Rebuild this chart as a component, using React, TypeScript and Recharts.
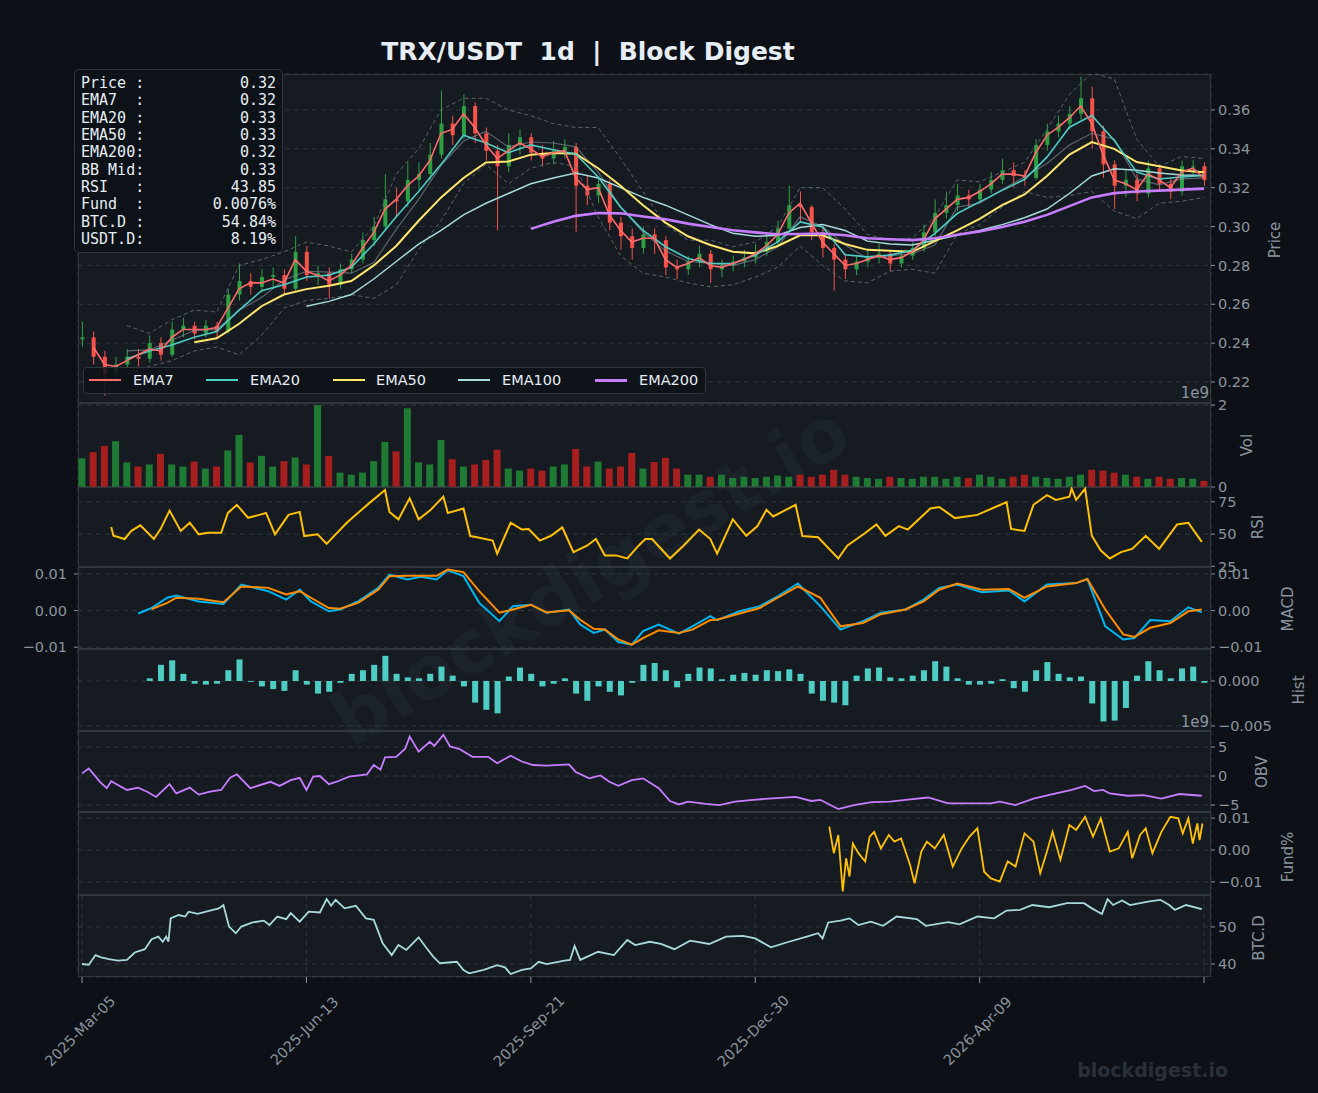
import React from 'react'
import { ComposedChart, Bar, Line, XAxis, YAxis, CartesianGrid, Cell } from 'recharts'

// values, one row every 5 days from 2025-03-05
const STEP = 5
const SLOW_STEP = 10 // slow overlays are listed every 10 days

const xTicks = [0, 100, 200, 300, 400, 500]
const xTickLabels = ['2025-Mar-05', '2025-Jun-13', '2025-Sep-21', '2025-Dec-30', '2026-Apr-09', '']

const firstOpen = 0.242
const closes = [
  0.243, 0.233, 0.224, 0.229, 0.233, 0.232, 0.240, 0.234, 0.247, 0.249,
  0.245, 0.249, 0.246, 0.265, 0.272, 0.269, 0.274, 0.275, 0.268, 0.287,
  0.275, 0.276, 0.270, 0.278, 0.283, 0.293, 0.300, 0.314, 0.313, 0.324,
  0.327, 0.337, 0.353, 0.347, 0.362, 0.348, 0.339, 0.331, 0.342, 0.346,
  0.338, 0.335, 0.339, 0.341, 0.321, 0.316, 0.322, 0.302, 0.295, 0.289,
  0.296, 0.293, 0.279, 0.278, 0.282, 0.286, 0.278, 0.280, 0.282, 0.284,
  0.287, 0.292, 0.299, 0.311, 0.310, 0.297, 0.289, 0.283, 0.278, 0.282,
  0.284, 0.286, 0.281, 0.285, 0.289, 0.297, 0.307, 0.311, 0.316, 0.314,
  0.319, 0.324, 0.329, 0.326, 0.325, 0.342, 0.349, 0.353, 0.358, 0.366,
  0.349, 0.332, 0.321, 0.324, 0.317, 0.330, 0.322, 0.318, 0.331, 0.331,
  0.324,
]
const highs = [
  0.251, 0.246, 0.236, 0.233, 0.237, 0.237, 0.244, 0.243, 0.251, 0.253,
  0.251, 0.252, 0.251, 0.268, 0.281, 0.276, 0.278, 0.279, 0.278, 0.295,
  0.290, 0.280, 0.279, 0.281, 0.286, 0.297, 0.305, 0.327, 0.320, 0.333,
  0.333, 0.343, 0.370, 0.357, 0.368, 0.364, 0.351, 0.342, 0.348, 0.350,
  0.348, 0.342, 0.344, 0.345, 0.343, 0.326, 0.326, 0.324, 0.305, 0.299,
  0.300, 0.299, 0.295, 0.283, 0.285, 0.290, 0.288, 0.283, 0.285, 0.288,
  0.291, 0.296, 0.303, 0.321, 0.318, 0.311, 0.300, 0.291, 0.286, 0.285,
  0.288, 0.291, 0.288, 0.288, 0.292, 0.301, 0.314, 0.318, 0.322, 0.319,
  0.322, 0.328, 0.335, 0.333, 0.329, 0.345, 0.353, 0.357, 0.362, 0.377,
  0.372, 0.352, 0.334, 0.329, 0.327, 0.334, 0.332, 0.325, 0.334, 0.334,
  0.333,
]
const lows = [
  0.238, 0.229, 0.213, 0.220, 0.227, 0.228, 0.230, 0.231, 0.233, 0.243,
  0.242, 0.243, 0.242, 0.245, 0.262, 0.265, 0.266, 0.268, 0.265, 0.267,
  0.272, 0.270, 0.263, 0.268, 0.276, 0.281, 0.290, 0.298, 0.305, 0.310,
  0.319, 0.324, 0.335, 0.342, 0.345, 0.343, 0.334, 0.298, 0.328, 0.337,
  0.334, 0.331, 0.332, 0.335, 0.297, 0.311, 0.312, 0.298, 0.288, 0.283,
  0.286, 0.286, 0.275, 0.273, 0.275, 0.279, 0.271, 0.274, 0.277, 0.279,
  0.281, 0.285, 0.290, 0.297, 0.302, 0.293, 0.284, 0.267, 0.273, 0.275,
  0.279, 0.281, 0.277, 0.279, 0.283, 0.287, 0.295, 0.304, 0.308, 0.310,
  0.312, 0.317, 0.322, 0.320, 0.321, 0.324, 0.339, 0.346, 0.350, 0.355,
  0.340, 0.325, 0.309, 0.315, 0.313, 0.315, 0.318, 0.314, 0.316, 0.327,
  0.321,
]
const ema7 = [
  null, 0.238, 0.229, 0.228, 0.231, 0.234, 0.237, 0.236, 0.243, 0.247,
  0.247, 0.247, 0.248, 0.258, 0.268, 0.271, 0.271, 0.273, 0.271, 0.283,
  0.277, 0.275, 0.272, 0.275, 0.280, 0.289, 0.297, 0.309, 0.314, 0.321,
  0.326, 0.334, 0.348, 0.350, 0.358, 0.351, 0.342, 0.335, 0.339, 0.343,
  0.340, 0.336, 0.338, 0.339, 0.325, 0.319, 0.320, 0.306, 0.298, 0.292,
  0.294, 0.294, 0.283, 0.279, 0.281, 0.284, 0.280, 0.279, 0.281, 0.283,
  0.286, 0.290, 0.296, 0.307, 0.312, 0.302, 0.292, 0.286, 0.280, 0.281,
  0.283, 0.285, 0.283, 0.284, 0.287, 0.293, 0.304, 0.309, 0.314, 0.315,
  0.318, 0.322, 0.327, 0.327, 0.326, 0.338, 0.347, 0.351, 0.356, 0.362,
  0.353, 0.337, 0.324, 0.322, 0.319, 0.327, 0.324, 0.320, 0.328, 0.330,
  0.325,
]
// 10-day steps
const ema20 = [
  null, null, 0.232, 0.236, 0.239, 0.243, 0.246, 0.257, 0.267, 0.270,
  0.274, 0.275, 0.279, 0.291, 0.305, 0.318, 0.332, 0.347, 0.343, 0.338,
  0.342, 0.3395, 0.3374, 0.3255, 0.310, 0.298, 0.2896, 0.2836, 0.281, 0.281,
  0.2853, 0.2921, 0.3024, 0.2998, 0.2855, 0.2844, 0.2853, 0.2878, 0.2964, 0.3067,
  0.3127, 0.3186, 0.3242, 0.3357, 0.3511, 0.3571, 0.3443, 0.328, 0.3245, 0.3255,
  0.3263,
]
const ema50 = [
  null, null, null, null, null, 0.2405, 0.2425, 0.250, 0.259, 0.265,
  0.2678, 0.2695, 0.272, 0.280, 0.290, 0.303, 0.315, 0.325, 0.333, 0.3335,
  0.337, 0.3378, 0.3375, 0.330, 0.321, 0.311, 0.302, 0.295, 0.2905, 0.287,
  0.2862, 0.290, 0.2955, 0.2955, 0.291, 0.288, 0.2875, 0.287, 0.2925, 0.298,
  0.304, 0.311, 0.3165, 0.326, 0.337, 0.3435, 0.340, 0.3332, 0.331, 0.3289,
  0.328,
]
const ema100 = [
  null, null, null, null, null, null, null, null, null, null,
  0.259, 0.2615, 0.265, 0.273, 0.282, 0.291, 0.298, 0.306, 0.312, 0.317,
  0.322, 0.325, 0.3275, 0.325, 0.320, 0.315, 0.311, 0.306, 0.301, 0.2965,
  0.295, 0.2955, 0.2995, 0.301, 0.298, 0.2925, 0.291, 0.2905, 0.293, 0.2955,
  0.298, 0.301, 0.3045, 0.309, 0.317, 0.326, 0.3297, 0.329, 0.3275, 0.3265,
  0.3263,
]
const ema200 = [
  null, null, null, null, null, null, null, null, null, null,
  null, null, null, null, null, null, null, null, null, null,
  0.2988, 0.3025, 0.3055, 0.307, 0.3068, 0.3052, 0.3038, 0.3015, 0.2998, 0.2981,
  0.297, 0.296, 0.2962, 0.2964, 0.2955, 0.294, 0.2935, 0.293, 0.294, 0.2958,
  0.2975, 0.2998, 0.3025, 0.306, 0.3105, 0.315, 0.3172, 0.318, 0.3185, 0.319,
  0.3195,
]
const bbUpper = [
  null, null, 0.249, 0.245, 0.252, 0.257, 0.256, 0.280, 0.283, 0.287,
  0.292, 0.290, 0.287, 0.300, 0.327, 0.340, 0.360, 0.366, 0.366, 0.360,
  0.357, 0.353, 0.351, 0.351, 0.335, 0.318, 0.301, 0.293, 0.293, 0.2896,
  0.292, 0.300, 0.320, 0.320, 0.309, 0.296, 0.293, 0.294, 0.305, 0.324,
  0.323, 0.328, 0.333, 0.350, 0.368, 0.379, 0.376, 0.345, 0.331, 0.336,
  0.335,
]
const bbLower = [
  null, null, 0.224, 0.228, 0.231, 0.236, 0.238, 0.234, 0.244, 0.258,
  0.262, 0.263, 0.265, 0.263, 0.270, 0.288, 0.303, 0.322, 0.332, 0.322,
  0.330, 0.333, 0.331, 0.305, 0.285, 0.276, 0.274, 0.271, 0.269, 0.270,
  0.274, 0.279, 0.290, 0.280, 0.272, 0.271, 0.277, 0.278, 0.276, 0.296,
  0.301, 0.310, 0.318, 0.315, 0.316, 0.318, 0.308, 0.304, 0.312, 0.313,
  0.315,
]
const bbMid = [
  null, null, 0.236, 0.2365, 0.2415, 0.2465, 0.247, 0.257, 0.2635, 0.2725,
  0.277, 0.2765, 0.276, 0.2815, 0.2985, 0.314, 0.3315, 0.344, 0.349, 0.341,
  0.3435, 0.343, 0.341, 0.328, 0.310, 0.297, 0.2875, 0.282, 0.281, 0.280,
  0.283, 0.2895, 0.305, 0.300, 0.2905, 0.2835, 0.285, 0.286, 0.2905, 0.310,
  0.312, 0.319, 0.3255, 0.3325, 0.342, 0.348, 0.345, 0.3245, 0.3215, 0.3245,
  0.325,
]

// volume in 1e9, 5-day steps
const volume = [
  0.7, 0.85, 1.0, 1.12, 0.6, 0.5, 0.55, 0.81, 0.55, 0.5,
  0.62, 0.45, 0.5, 0.89, 1.27, 0.6, 0.76, 0.5, 0.63, 0.72,
  0.55, 2.0, 0.76, 0.35, 0.3, 0.35, 0.63, 1.1, 0.87, 1.92,
  0.6, 0.55, 1.15, 0.68, 0.5, 0.55, 0.66, 0.91, 0.45, 0.4,
  0.45, 0.4, 0.5, 0.55, 0.93, 0.5, 0.62, 0.45, 0.5, 0.83,
  0.45, 0.61, 0.71, 0.45, 0.3, 0.3, 0.25, 0.3, 0.22, 0.25,
  0.22, 0.25, 0.28, 0.25, 0.3, 0.25, 0.3, 0.42, 0.3, 0.25,
  0.22, 0.2, 0.25, 0.22, 0.2, 0.25, 0.25, 0.2, 0.25, 0.22,
  0.3, 0.25, 0.2, 0.25, 0.3, 0.25, 0.22, 0.2, 0.25, 0.3,
  0.42, 0.4, 0.35, 0.3, 0.25, 0.2, 0.25, 0.2, 0.22, 0.2,
  0.15,
]

// MACD histogram, 5-day steps
const hist = [
  null, null, null, null, null, 0, 0.0003, 0.0018, 0.0023, 0.0008,
  -0.0003, -0.0004, -0.0003, 0.0012, 0.0024, -0.0001, -0.0006, -0.0009, -0.0011, 0.0012,
  -0.0004, -0.0014, -0.0012, -0.0002, 0.0008, 0.0012, 0.0018, 0.0028, 0.0008, 0.0004,
  0.0003, 0.0008, 0.0016, 0.0006, -0.0006, -0.0024, -0.0032, -0.0036, 0.0005, 0.0015,
  0.0008, -0.0006, -0.0003, 0.0003, -0.0014, -0.0022, -0.0006, -0.0012, -0.0016, -0.0002,
  0.0018, 0.002, 0.0012, -0.0007, 0.0008, 0.0015, 0.0014, 0.0002, 0.0007, 0.0009,
  0.0007, 0.0012, 0.0011, 0.0013, 0.0008, -0.0014, -0.0022, -0.0024, -0.0027, 0.0006,
  0.0014, 0.0015, 0.0004, 0.0003, 0.0006, 0.0012, 0.0022, 0.0016, 0.0003, -0.0004,
  -0.0004, -0.0003, 0.0002, -0.0008, -0.0012, 0.0012, 0.0021, 0.0008, 0.0004, 0.0005,
  -0.0025, -0.0045, -0.0044, -0.003, 0.0006, 0.0022, 0.0012, 0.0003, 0.0014, 0.0016,
  -0.0002,
]

// [day, value] readings
const rsiPts = [
  [13, 55.5], [14, 48.7], [19, 46.2], [22, 52.5], [26, 56.8], [32, 46.2], [35, 53.9], [39, 68.2],
  [44, 52.5], [48, 58.8], [52, 49.8], [56, 51], [62, 51], [65, 66.4], [69, 72.7], [74, 62.6],
  [79, 64.9], [82, 66.4], [86, 49.8], [92, 64.9], [97, 67.2], [99, 48.5], [105, 49.8], [109, 42.4],
  [113, 49.8], [118, 58.8], [121, 63.4], [128, 74], [135, 84.1], [137, 67.2], [141, 61.4], [146, 77.8],
  [150, 61.4], [155, 68.2], [161, 79], [163, 66.4], [170, 69.8], [173, 48.5], [176, 47.5], [183, 45],
  [185, 34.8], [191, 58.8], [196, 53.5], [199, 53.9], [204, 45], [209, 48.7], [214, 55.2], [219, 36],
  [225, 41], [229, 46.2], [233, 33.5], [238, 33.5], [243, 31.1], [248, 41], [251, 46.2], [254, 46.2],
  [262, 31.1], [268, 41], [275, 53.5], [280, 46.2], [283, 34.8], [290, 61.4], [296, 48.7], [301, 56.2],
  [305, 68.8], [308, 63.7], [318, 72.7], [321, 48.5], [328, 47.5], [337, 31.1], [341, 41], [349, 50.8],
  [354, 57.5], [358, 48.7], [364, 56.2], [368, 53.5], [378, 69.8], [382, 71], [389, 62.4], [399, 64.9],
  [407, 71], [412, 74.8], [414, 54], [420, 52.5], [424, 72.7], [430, 80.2], [434, 76.5], [440, 79],
  [441, 85.2], [443, 76.5], [447, 85.2], [450, 48.7], [454, 37.3], [458, 31.1], [463, 36], [468, 38.5],
  [474, 48.7], [480, 38.5], [488, 57.5], [493, 58.8], [499, 44],
]

// [day, macd, signal]
const macdPts = [
  [25, -0.0008, null], [31, 0.0007, 0.0004], [38, 0.0035, 0.0021], [42, 0.0041, 0.0035],
  [52, 0.0025, 0.0032], [63, 0.0018, 0.0023], [71, 0.0071, 0.0066], [83, 0.0053, 0.0062],
  [91, 0.003, 0.0044], [97, 0.0057, 0.0053], [102, 0.0025, 0.0035], [110, -0.0002, 0.0007],
  [115, 0.0003, 0.0005], [123, 0.0025, 0.0021], [132, 0.0062, 0.0057], [137, 0.0098, 0.0094],
  [145, 0.0085, 0.0095], [151, 0.0092, 0.0095], [158, 0.0085, 0.0095], [163, 0.011, 0.0112],
  [170, 0.0094, 0.0105], [177, 0.0021, 0.0053], [186, -0.0029, -0.0006], [192, 0.0012, 0.0003],
  [200, 0.0016, 0.0016], [207, -0.0006, -0.0005], [217, 0.0003, 0.0001], [222, -0.0038, -0.0025],
  [228, -0.0061, -0.005], [233, -0.0052, -0.0052], [239, -0.0086, -0.0079], [245, -0.0093, -0.0093],
  [250, -0.0056, -0.0075], [257, -0.0038, -0.0054], [266, -0.0063, -0.0061], [272, -0.0043, -0.0052],
  [280, -0.0015, -0.0026], [283, -0.0026, -0.0025], [293, -0.0002, -0.0008], [302, 0.0012, 0.0007],
  [310, 0.0039, 0.0035], [319, 0.0074, 0.0066], [329, 0.0012, 0.0035], [338, -0.0052, -0.0043],
  [348, -0.0029, -0.0034], [356, -0.0006, -0.001], [367, 0.0003, 0.0003], [375, 0.003, 0.0025],
  [382, 0.0062, 0.0057], [390, 0.0071, 0.0074], [401, 0.005, 0.0057], [413, 0.0055, 0.0059],
  [420, 0.0025, 0.0035], [430, 0.0071, 0.0066], [443, 0.0075, 0.0075], [448, 0.0086, 0.0086],
  [456, -0.0043, 0.0003], [464, -0.0079, -0.0065], [469, -0.0075, -0.0072], [476, -0.0026, -0.0047],
  [485, -0.0029, -0.0034], [493, 0.0009, -0.0002], [499, -0.0005, 0.0003],
]

// OBV in 1e9
const obvPts = [
  [0, 0.46], [3, 1.3], [8, -1], [11, -2.1], [13, -0.9], [20, -2.4], [25, -2], [29, -2.7],
  [33, -3.6], [39, -1.4], [42, -3], [48, -2], [52, -3.2], [57, -2.7], [62, -2.4], [66, -0.3],
  [69, 0.3], [75, -2.1], [84, -1], [88, -1.7], [93, -0.7], [97, -0.3], [100, -2.4], [103, -0.1],
  [106, 0], [110, -1.4], [114, -0.9], [119, -0.1], [127, 0.3], [130, 1.9], [133, 1.1], [135, 3.2],
  [140, 3.3], [144, 4.7], [146, 6.8], [150, 4.2], [155, 5.9], [157, 5.2], [161, 7.1], [164, 5.1],
  [168, 4.7], [174, 3.3], [181, 3.3], [185, 2.2], [191, 3.5], [196, 2.5], [201, 1.9], [207, 1.8],
  [217, 2], [220, 0.7], [226, -0.4], [231, 0.1], [235, -1], [239, -1.7], [245, -0.7], [250, -0.4],
  [257, -2.1], [262, -4.3], [266, -4.9], [270, -4.4], [278, -4.8], [284, -5], [291, -4.4], [299, -4.1],
  [306, -3.9], [318, -3.6], [325, -4.3], [329, -4.1], [337, -5.7], [344, -5], [352, -4.5], [360, -4.4],
  [367, -4.1], [377, -3.7], [386, -4.7], [396, -4.7], [405, -4.7], [409, -4.4], [416, -5], [424, -3.9],
  [434, -3], [441, -2.4], [447, -1.7], [451, -2.6], [455, -2.4], [458, -3], [466, -3.4], [473, -3.3],
  [481, -3.9], [489, -3.1], [499, -3.4],
]

// funding rate, %
const fundPts = [
  [333, 0.0073], [335, -0.001], [337, 0.0047], [339, -0.013], [340.5, -0.0026], [342, -0.0083],
  [343.5, 0.002], [346, -0.001], [349, -0.0036], [351, 0.0042], [353, 0.0057], [356, 0.0005],
  [359.5, 0.0047], [362, 0.0026], [365, 0.0036], [369, -0.0047], [371, -0.0104], [374, -0.0005],
  [376.5, 0.0026], [380, 0.0005], [384, 0.0047], [388, -0.0052], [392, 0.0005], [395.5, 0.0042],
  [399, 0.0068], [402, -0.0068], [405, -0.0089], [409, -0.0099], [412.5, -0.0036], [416, -0.0052],
  [420, 0.0052], [424, 0.0026], [427, -0.0073], [430, -0.0005], [432.5, 0.0057], [436, -0.0031],
  [440, 0.0078], [443, 0.0063], [447, 0.0104], [450.5, 0.0042], [454, 0.0099], [458, -0.0005],
  [462, 0.0005], [466, 0.0057], [468, -0.0026], [471.5, 0.0047], [474, 0.0068], [477, -0.001],
  [481, 0.0057], [485, 0.0104], [488.5, 0.0099], [490.5, 0.0052], [493, 0.0099], [495, 0.002],
  [497, 0.0083], [498, 0.0031], [499.3, 0.0083],
]

// BTC dominance, %
const btcdPts = [
  [0, 40], [3, 39.8], [6, 42.4], [8.5, 41.8], [12, 41.3], [16, 40.9], [20, 41.1], [23.5, 43.1],
  [28, 44], [31, 46.7], [34, 47.4], [36, 46], [37.5, 47.4], [38.5, 46], [39.5, 52.3], [43, 53.2],
  [46, 52.8], [47.5, 54.1], [51.5, 53.5], [57, 54.4], [61, 55], [63, 55.9], [65.5, 50.1], [68.5, 48.3],
  [71, 50.1], [76, 51.2], [81, 51.7], [83.5, 50.5], [87, 52.8], [91, 52.1], [93, 53.7], [97, 51.4],
  [101, 54.1], [106, 53.9], [109, 57.5], [111, 55.7], [113, 57.3], [117, 55], [122, 55.7], [126.5, 52.3],
  [130, 51.9], [134, 45.6], [138, 42.4], [141, 45.1], [144.5, 43.8], [150, 47.2], [153, 44.7], [156.5, 42],
  [159.5, 40.2], [167, 40.6], [170, 38.4], [172.5, 37.5], [179, 38.4], [185, 39.7], [188.5, 39.1], [191, 37.3],
  [196, 38.4], [200, 38.8], [203.5, 40.6], [207, 40], [215, 40.9], [217.5, 41.1], [219.5, 44.9], [222, 41.1],
  [230, 43.3], [237, 42.4], [243, 46.5], [246.5, 45.1], [253, 46], [258, 45.4], [264, 44], [271, 46.3],
  [279.5, 45.4], [287, 47.4], [294.5, 47.6], [300, 46.9], [307, 44.5], [315, 46], [323, 47.4], [328, 48.3],
  [330, 46.9], [332.5, 51.2], [338, 51.7], [342, 52.3], [346, 50.5], [351.5, 51.4], [357, 50.3], [363, 52.8],
  [372, 52.1], [376, 50.3], [386, 51.3], [391, 50.7], [399, 52.8], [406.5, 52.3], [412, 54.4], [418, 54.6],
  [423.5, 55.9], [431, 55.3], [439, 56.4], [446.5, 56.4], [450, 55], [454.5, 53.5], [457, 57.5], [459.5, 55.9],
  [463.5, 57.1], [467, 55.9], [475, 56.8], [480.5, 57.3], [484.5, 55.9], [487, 54.6], [492, 55.9], [499, 54.8],
]

const infoRows = [
  ['Price :', '0.32'], ['EMA7  :', '0.32'], ['EMA20 :', '0.33'], ['EMA50 :', '0.33'],
  ['EMA200:', '0.32'], ['BB Mid:', '0.33'], ['RSI   :', '43.85'], ['Fund  :', '0.0076%'],
  ['BTC.D :', '54.84%'], ['USDT.D:', '8.19%'],
]

// ---- look ----
const FONT = '"DejaVu Sans", sans-serif'
const MONO = '"DejaVu Sans Mono", monospace'
const PAGE_BG = '#0d1117'
const PANEL_BG = '#161b22'
const SPINE = '#30363d'
const GRID = '#30363d'
const TXT = '#8b949e'
const CANDLE_UP = '#2ea043'
const CANDLE_DN = '#f85149'
const VOL_UP = '#1f7a34'
const VOL_DN = '#a61e1e'
const C = {
  ema7: '#ff6b6b', ema20: '#4ecdc4', ema50: '#ffe66d', ema100: '#a8dadc', ema200: '#c77dff',
  bb: '#6e7681', rsi: '#ffc107', macd: '#00b4f0', signal: '#ff8c00', hist: '#4ecdc4',
  obv: '#c77dff', fund: '#ffc107', btcd: '#a8dadc',
}

const W = 1318
const H = 1093
const PLOT_L = 78
const PLOT_R = 1211
const AXIS_W = 50
const X_DOMAIN = [-1.8, 503.1]

const panels = {
  price: { top: 74, h: 329 },
  vol: { top: 403, h: 84 },
  rsi: { top: 487, h: 80 },
  macd: { top: 567, h: 82 },
  hist: { top: 649, h: 82 },
  obv: { top: 731, h: 81 },
  fund: { top: 812, h: 83 },
  btcd: { top: 895, h: 82 },
}

// ---- rows ----
const priceRows = closes.map((c, i) => {
  const k = (i * STEP) / SLOW_STEP
  const pick = (arr: (number | null)[]) => (Number.isInteger(k) ? arr[k] : null)
  return {
    d: i * STEP,
    o: i === 0 ? firstOpen : closes[i - 1],
    c,
    h: highs[i],
    l: lows[i],
    range: [lows[i], highs[i]],
    ema7: ema7[i],
    ema20: pick(ema20),
    ema50: pick(ema50),
    ema100: pick(ema100),
    ema200: pick(ema200),
    bbUp: pick(bbUpper),
    bbLo: pick(bbLower),
    bbMid: pick(bbMid),
  }
})
const volRows = volume.map((v, i) => ({ d: i * STEP, v, up: priceRows[i].c >= priceRows[i].o }))
const histRows = hist
  .map((v, i) => ({ d: i * STEP, v }))
  .filter((r) => r.v !== null)
const rsiRows = rsiPts.map(([d, v]) => ({ d, v }))
const macdRows = macdPts.map(([d, m, s]) => ({ d, m, s }))
const obvRows = obvPts.map(([d, v]) => ({ d, v }))
const fundRows = fundPts.map(([d, v]) => ({ d, v }))
const btcdRows = btcdPts.map(([d, v]) => ({ d, v }))

const fmt = (digits: number) => (v: number) => (v < 0 ? '\u2212' : '') + Math.abs(v).toFixed(digits)

const Candle = (props: any) => {
  const { x, y, width, height, payload } = props
  if (!payload || height == null || isNaN(y)) return null
  const { o, c, h, l } = payload
  const top = Math.min(y, y + height)
  const span = Math.abs(height)
  const k = span / (h - l || 1)
  const yAt = (v: number) => top + (h - v) * k
  const color = c >= o ? CANDLE_UP : CANDLE_DN
  const cx = x + width / 2
  return (
    <g>
      <line x1={cx} x2={cx} y1={top} y2={top + span} stroke={color} strokeWidth={1} />
      <rect x={x} y={yAt(Math.max(o, c))} width={width} height={Math.max(1, Math.abs(o - c) * k)} fill={color} />
    </g>
  )
}

const DateTick = (props: any) => {
  const { x, y, payload } = props
  const label = xTickLabels[xTicks.indexOf(payload.value)]
  if (!label) return null
  const cx = x - 2
  const cy = y + 46
  return (
    <text x={cx} y={cy} transform={`rotate(-45, ${cx}, ${cy})`} textAnchor="middle" dominantBaseline="central"
      fill={TXT} fontSize={14.5} fontFamily={FONT}>
      {label}
    </text>
  )
}

const tickStyle = { fill: TXT, fontSize: 14.5, fontFamily: FONT }

function Panel({ p, data, domain, ticks, digits, leftAxis, bottom, children }: any) {
  const extra = bottom ? 116 : 0
  const leftW = 60
  return (
    <div style={{ position: 'absolute', left: 0, top: p.top, width: W, height: p.h + extra }}>
      <ComposedChart
        width={W}
        height={p.h + extra}
        data={data}
        margin={{ top: 0, bottom: 0, left: leftAxis ? PLOT_L - leftW : PLOT_L, right: W - PLOT_R - AXIS_W }}
      >
        <CartesianGrid stroke={GRID} strokeDasharray="5 4" strokeWidth={1} />
        <XAxis
          type="number"
          dataKey="d"
          domain={X_DOMAIN}
          ticks={xTicks}
          interval={0}
          allowDataOverflow
          hide={!bottom}
          height={bottom ? extra : 0}
          axisLine={false}
          tickLine={{ stroke: TXT }}
          tickSize={6}
          tick={bottom ? (tp: any) => <DateTick {...tp} /> : false}
        />
        <YAxis
          orientation="right"
          type="number"
          domain={domain}
          ticks={ticks}
          interval={0}
          allowDataOverflow
          width={AXIS_W}
          axisLine={false}
          tickLine={{ stroke: TXT }}
          tickSize={4}
          tickMargin={3}
          tick={tickStyle}
          tickFormatter={fmt(digits)}
        />
        {leftAxis && (
          <YAxis
            yAxisId="left"
            orientation="left"
            type="number"
            domain={domain}
            ticks={ticks}
            interval={0}
            allowDataOverflow
            width={leftW}
            axisLine={false}
            tickLine={{ stroke: TXT }}
            tickSize={4}
            tickMargin={7}
            tick={tickStyle}
            tickFormatter={fmt(digits)}
          />
        )}
        {children}
      </ComposedChart>
    </div>
  )
}

const legendItems = [
  { name: 'EMA7', color: C.ema7, w: 2, hx: 5, tx: 49 },
  { name: 'EMA20', color: C.ema20, w: 2, hx: 122, tx: 166 },
  { name: 'EMA50', color: C.ema50, w: 2, hx: 249, tx: 292 },
  { name: 'EMA100', color: C.ema100, w: 2, hx: 374, tx: 418 },
  { name: 'EMA200', color: C.ema200, w: 3, hx: 511, tx: 555 },
]

const sideLabels = [
  { t: 'Price', x: 1275, y: 240 },
  { t: 'Vol', x: 1247, y: 445 },
  { t: 'RSI', x: 1258, y: 527 },
  { t: 'MACD', x: 1288, y: 609 },
  { t: 'Hist', x: 1299, y: 690 },
  { t: 'OBV', x: 1262, y: 772 },
  { t: 'Fund%', x: 1288, y: 857 },
  { t: 'BTC.D', x: 1259, y: 938 },
]

export default function App() {
  const line = (key: string, color: string, width = 1.5, extra: any = {}) => (
    <Line key={key} type="linear" dataKey={key} stroke={color} strokeWidth={width} dot={false}
      connectNulls isAnimationActive={false} {...extra} />
  )
  return (
    <div style={{ position: 'absolute', left: 0, top: 0, width: W, height: H, background: PAGE_BG, overflow: 'hidden', fontFamily: FONT }}>
      <style>{'.recharts-surface { overflow: visible; } .recharts-wrapper { overflow: visible; }'}</style>
      {Object.values(panels).map((p, i) => (
        <div key={i} style={{ position: 'absolute', left: PLOT_L, top: p.top, width: PLOT_R - PLOT_L, height: p.h,
          background: PANEL_BG, border: `1px solid ${SPINE}`, boxSizing: 'border-box' }} />
      ))}

      <svg width={W} height={H} style={{ position: 'absolute', left: 0, top: 0 }}>
        <text x={590} y={575} transform="rotate(-31, 590, 575)" textAnchor="middle" dominantBaseline="central"
          fontSize={74} fontWeight="bold" fontFamily={FONT} fill="rgba(160,170,185,0.05)">blockdigest.io</text>
      </svg>

      <div style={{ position: 'absolute', left: 0, top: 35, width: 1176, textAlign: 'center', color: '#e6edf3',
        fontSize: 25, fontWeight: 'bold', lineHeight: '34px', whiteSpace: 'pre' }}>
        {'TRX/USDT  1d  |  Block Digest'}
      </div>

      <Panel p={panels.price} data={priceRows} domain={[0.2092, 0.3785]} ticks={[0.22, 0.24, 0.26, 0.28, 0.30, 0.32, 0.34, 0.36]} digits={2}>
        {line('bbUp', C.bb, 1, { strokeDasharray: '4 3', strokeOpacity: 0.8 })}
        {line('bbLo', C.bb, 1, { strokeDasharray: '4 3', strokeOpacity: 0.8 })}
        <Bar dataKey="range" barSize={4} shape={Candle} isAnimationActive={false} />
        {line('bbMid', TXT, 1.2, { strokeOpacity: 0.6 })}
        {line('ema100', C.ema100, 1.5)}
        {line('ema50', C.ema50, 2)}
        {line('ema20', C.ema20, 1.6)}
        {line('ema7', C.ema7, 1.6)}
        {line('ema200', C.ema200, 2.6)}
      </Panel>

      <Panel p={panels.vol} data={volRows} domain={[0, 2.05]} ticks={[0, 2]} digits={0}>
        <Bar dataKey="v" barSize={7} isAnimationActive={false}>
          {volRows.map((r, i) => <Cell key={i} fill={r.up ? VOL_UP : VOL_DN} />)}
        </Bar>
      </Panel>

      <Panel p={panels.rsi} data={rsiRows} domain={[24.5, 86.5]} ticks={[25, 50, 75]} digits={0}>
        {line('v', C.rsi, 2)}
      </Panel>

      <Panel p={panels.macd} data={macdRows} domain={[-0.0105, 0.0119]} ticks={[-0.01, 0, 0.01]} digits={2} leftAxis>
        {line('m', C.macd, 2)}
        {line('s', C.signal, 2)}
      </Panel>

      <Panel p={panels.hist} data={histRows} domain={[-0.00556, 0.00356]} ticks={[-0.005, 0]} digits={3}>
        <Bar dataKey="v" barSize={6} fill={C.hist} isAnimationActive={false} />
      </Panel>

      <Panel p={panels.obv} data={obvRows} domain={[-6.2, 7.76]} ticks={[-5, 0, 5]} digits={0}>
        {line('v', C.obv, 1.8)}
      </Panel>

      <Panel p={panels.fund} data={fundRows} domain={[-0.0141, 0.0119]} ticks={[-0.01, 0, 0.01]} digits={2}>
        {line('v', C.fund, 1.8)}
      </Panel>

      <Panel p={panels.btcd} data={btcdRows} domain={[36.5, 58.6]} ticks={[40, 50]} digits={0} bottom>
        {line('v', C.btcd, 1.8)}
      </Panel>

      <svg width={W} height={H} style={{ position: 'absolute', left: 0, top: 0, pointerEvents: 'none' }}>
        {sideLabels.map((s) => (
          <text key={s.t} x={s.x} y={s.y} transform={`rotate(-90, ${s.x}, ${s.y})`} textAnchor="middle"
            dominantBaseline="central" fill={TXT} fontSize={15} fontFamily={FONT}>{s.t}</text>
        ))}
        <text x={1209} y={398} textAnchor="end" fill={TXT} fontSize={15} fontFamily={FONT}>1e9</text>
        <text x={1209} y={727} textAnchor="end" fill={TXT} fontSize={15} fontFamily={FONT}>1e9</text>
        <text x={1228} y={1077} textAnchor="end" fill="#2a3039" fontSize={19} fontWeight="bold" fontFamily={FONT}>blockdigest.io</text>
      </svg>

      <div style={{ position: 'absolute', left: 83, top: 367, width: 623, height: 27, boxSizing: 'border-box',
        background: 'rgba(13,17,23,0.85)', border: `1px solid ${SPINE}`, borderRadius: 4 }}>
        {legendItems.map((it) => (
          <React.Fragment key={it.name}>
            <div style={{ position: 'absolute', left: it.hx, top: 12 - it.w / 2, width: 32, height: it.w, background: it.color }} />
            <div style={{ position: 'absolute', left: it.tx, top: 4, color: '#e6edf3', fontSize: 14.5, lineHeight: '17px' }}>{it.name}</div>
          </React.Fragment>
        ))}
      </div>

      <div style={{ position: 'absolute', left: 74, top: 69, width: 209, height: 184, boxSizing: 'border-box',
        background: 'rgba(13,17,23,0.88)', border: `1px solid ${SPINE}`, borderRadius: 5, padding: '5px 6px 0 6px' }}>
        {infoRows.map(([k, v]) => (
          <div key={k} style={{ display: 'flex', justifyContent: 'space-between', fontFamily: MONO, fontSize: 15,
            lineHeight: '17.35px', color: '#e6edf3', whiteSpace: 'pre' }}>
            <span>{k}</span>
            <span>{v}</span>
          </div>
        ))}
      </div>
    </div>
  )
}
